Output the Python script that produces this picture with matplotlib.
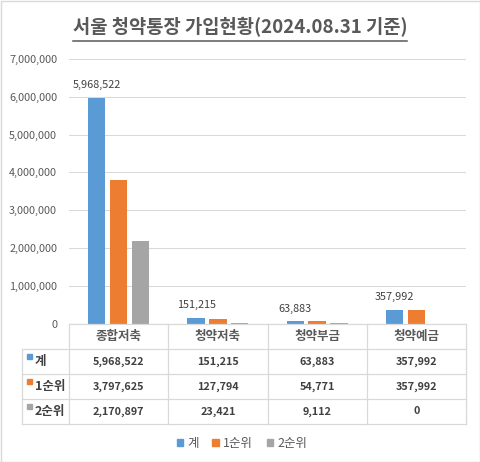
import matplotlib
matplotlib.use('Agg')
import matplotlib.pyplot as plt
from matplotlib.patches import Rectangle, Patch
from matplotlib.ticker import FuncFormatter, MultipleLocator

plt.rcParams['font.family'] = ['Noto Sans CJK KR', 'DejaVu Sans']

title = '서울 청약통장 가입현황(2024.08.31 기준)'
categories = ['종합저축', '청약저축', '청약부금', '청약예금']
series_names = ['계', '1순위', '2순위']
total = [5968522, 151215, 63883, 357992]
rank1 = [3797625, 127794, 54771, 357992]
rank2 = [2170897, 23421, 9112, 0]
colors = ['#5B9BD5', '#ED7D31', '#A5A5A5']

W, H = 480, 462
fig = plt.figure(figsize=(4.8, 4.62), dpi=100)
fig.patch.set_facecolor('white')
L, R, B, T = 69, 466, 323.5, 59
ax = fig.add_axes([L / W, 1 - B / H, (R - L) / W, (B - T) / H])
series = [total, rank1, rank2]
offsets = [-0.22, 0.0, 0.22]
width = 0.175
xs = list(range(len(categories)))
for vals, off, c in zip(series, offsets, colors):
    ax.bar([i + off for i in xs], vals, width=width, color=c, zorder=2)
ax.set_xlim(-0.5, len(categories) - 0.5)
ax.set_ylim(0, 7000000)
ax.yaxis.set_major_locator(MultipleLocator(1000000))
ax.yaxis.set_major_formatter(FuncFormatter(lambda v, p: f'{int(v):,}'))
ax.grid(axis='y', color='#D9D9D9', lw=0.75, zorder=0)
ax.set_xticks([])
for s in ax.spines.values():
    s.set_visible(False)
ax.tick_params(axis='y', length=0, pad=8.6, labelsize=7.8, labelcolor='#595959')
for i, v in enumerate(total):
    ax.annotate(f'{v:,}', (i + offsets[0], v), xytext=(0, 9), textcoords='offset points',
                ha='center', va='center', fontsize=7.8, color='#404040')

# overlay in pixel coordinates for table, legend, title and border
ov = fig.add_axes([0, 0, 1, 1], zorder=3)
ov.set_xlim(0, W)
ov.set_ylim(H, 0)
ov.axis('off')
ov.patch.set_alpha(0)

lc = '#D9D9D9'
row_y = [324, 349.3, 374, 399, 424]
n = len(categories)
col_x = [L + (R - L) * k / n for k in range(n + 1)]
left_x = 22
ov.plot([L, R], [row_y[0]] * 2, color=lc, lw=0.9)
for yy in row_y[1:]:
    ov.plot([left_x, R], [yy] * 2, color=lc, lw=0.9)
ov.plot([left_x] * 2, [row_y[1], row_y[-1]], color=lc, lw=0.9)
for xx in col_x:
    ov.plot([xx] * 2, [row_y[0], row_y[-1]], color=lc, lw=0.9)

for k, cat in enumerate(categories):
    cx = (col_x[k] + col_x[k + 1]) / 2
    ov.text(cx, (row_y[0] + row_y[1]) / 2, cat, ha='center', va='center',
            fontsize=9, color='#595959', fontweight='bold')
for r, (name, vals, c) in enumerate(zip(series_names, series, colors)):
    y0, y1 = row_y[r + 1], row_y[r + 2]
    cy = (y0 + y1) / 2
    ov.add_patch(Rectangle((27, y0 + 5), 5, 5, color=c))
    ov.text(34.5, cy, name, ha='left', va='center', fontsize=9,
            color='#404040', fontweight='bold')
    for k, v in enumerate(vals):
        cx = (col_x[k] + col_x[k + 1]) / 2
        ov.text(cx, cy, f'{v:,}', ha='center', va='center', fontsize=7.8,
                color='#404040', fontweight='bold')

handles = [Patch(color=c) for c in colors]
fig.legend(handles, series_names, loc='center', bbox_to_anchor=(242 / W, 1 - 443 / H),
           ncol=3, frameon=False, fontsize=9, handlelength=0.5, handleheight=0.5,
           handletextpad=0.35, columnspacing=1.1, labelcolor='#595959')

t = ov.text(240, 27, title, ha='center', va='center', fontsize=13.5, color='#595959',
            fontweight='bold')
fig.canvas.draw()
bb = t.get_window_extent(fig.canvas.get_renderer())
inv = ov.transData.inverted()
(x0, y0), (x1, y1) = inv.transform([[bb.x0, bb.y0], [bb.x1, bb.y1]])
ov.plot([x0, x1], [41, 41], color='#595959', lw=1.1)

ov.add_patch(Rectangle((0.5, 0.5), W - 1, H - 1, fill=False, edgecolor=lc, lw=1))

fig.savefig('out.png', dpi=100)
